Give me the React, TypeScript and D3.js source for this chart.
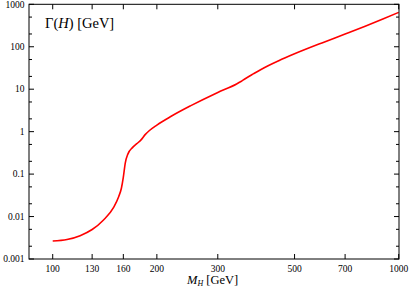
import React from "react";
import * as d3 from "d3";

const massGeV = [100, 110, 120, 130, 140, 150, 155, 158, 160, 162, 165, 170, 175, 180, 185, 190, 200, 220, 250, 300, 340, 350, 360, 380, 400, 450, 500, 600, 700, 800, 900, 1000];
const widthGeV = [0.00265, 0.00288, 0.00355, 0.00495, 0.0082, 0.0165, 0.029, 0.047, 0.085, 0.18, 0.3, 0.42, 0.52, 0.64, 0.85, 1.05, 1.43, 2.3, 4.04, 8.4, 13.3, 15.2, 17.6, 22.9, 29.2, 46.8, 68.0, 123, 199, 304, 449, 645];

const xTicks = [100, 130, 160, 200, 300, 500, 700, 1000];
const yTicks = [0.001, 0.01, 0.1, 1, 10, 100, 1000];
const yTickLabels = ["0.001", "0.01", "0.1", "1", "10", "100", "1000"];
const yMinorTicks = [0.002, 0.005, 0.02, 0.05, 0.2, 0.5, 2, 5, 20, 50, 200, 500];

const W = 415;
const H = 289;
const L = 29, R = 399, T = 4.3, B = 259;

export default function App() {
  const x = d3.scaleLog().domain([85.4, 1002]).range([L, R]);
  const y = d3.scaleLog().domain([0.001, 1000]).range([B, T]);
  const pts: [number, number][] = massGeV.map((m, i) => [x(m), y(widthGeV[i])]);
  const line = d3.line().curve(d3.curveMonotoneX)(pts) || "";
  const font = "Liberation Serif, serif";
  return (
    <svg width={W} height={H} style={{ position: "absolute", left: 0, top: 0 }} fontFamily={font}>
      <rect x={0} y={0} width={W} height={H} fill="#fff" />
      <path d={line} fill="none" stroke="#ff0000" strokeWidth={1.6} />
      <rect x={L} y={T} width={R - L} height={B - T} fill="none" stroke="#000" strokeWidth={1} />
      {xTicks.map((t) => (
        <g key={"x" + t}>
          <line x1={x(t)} x2={x(t)} y1={B} y2={B - 5} stroke="#000" />
          <line x1={x(t)} x2={x(t)} y1={T} y2={T + 5} stroke="#000" />
          <text x={x(t)} y={271.5} fontSize={9.5} textAnchor="middle" fill="#000">{t}</text>
        </g>
      ))}
      {yTicks.map((t, i) => (
        <g key={"y" + t}>
          <line x1={L} x2={L + 5} y1={y(t)} y2={y(t)} stroke="#000" />
          <line x1={R} x2={R - 5} y1={y(t)} y2={y(t)} stroke="#000" />
          <text x={24.5} y={y(t) + 3.2} fontSize={9.5} textAnchor="end" fill="#000">{yTickLabels[i]}</text>
        </g>
      ))}
      {yMinorTicks.map((t) => (
        <g key={"ym" + t}>
          <line x1={L} x2={L + 3} y1={y(t)} y2={y(t)} stroke="#000" />
          <line x1={R} x2={R - 3} y1={y(t)} y2={y(t)} stroke="#000" />
        </g>
      ))}
      <text x={45} y={28} fontSize={14.5} fill="#000">
        Γ(<tspan fontStyle="italic">H</tspan>) [GeV]
      </text>
      <text x={187} y={283.5} fontSize={12.5} fill="#000">
        <tspan fontStyle="italic">M</tspan>
        <tspan fontStyle="italic" fontSize={8} dy={2}>H</tspan>
        <tspan dy={-2}>{"\u00a0[GeV]"}</tspan>
      </text>
    </svg>
  );
}
